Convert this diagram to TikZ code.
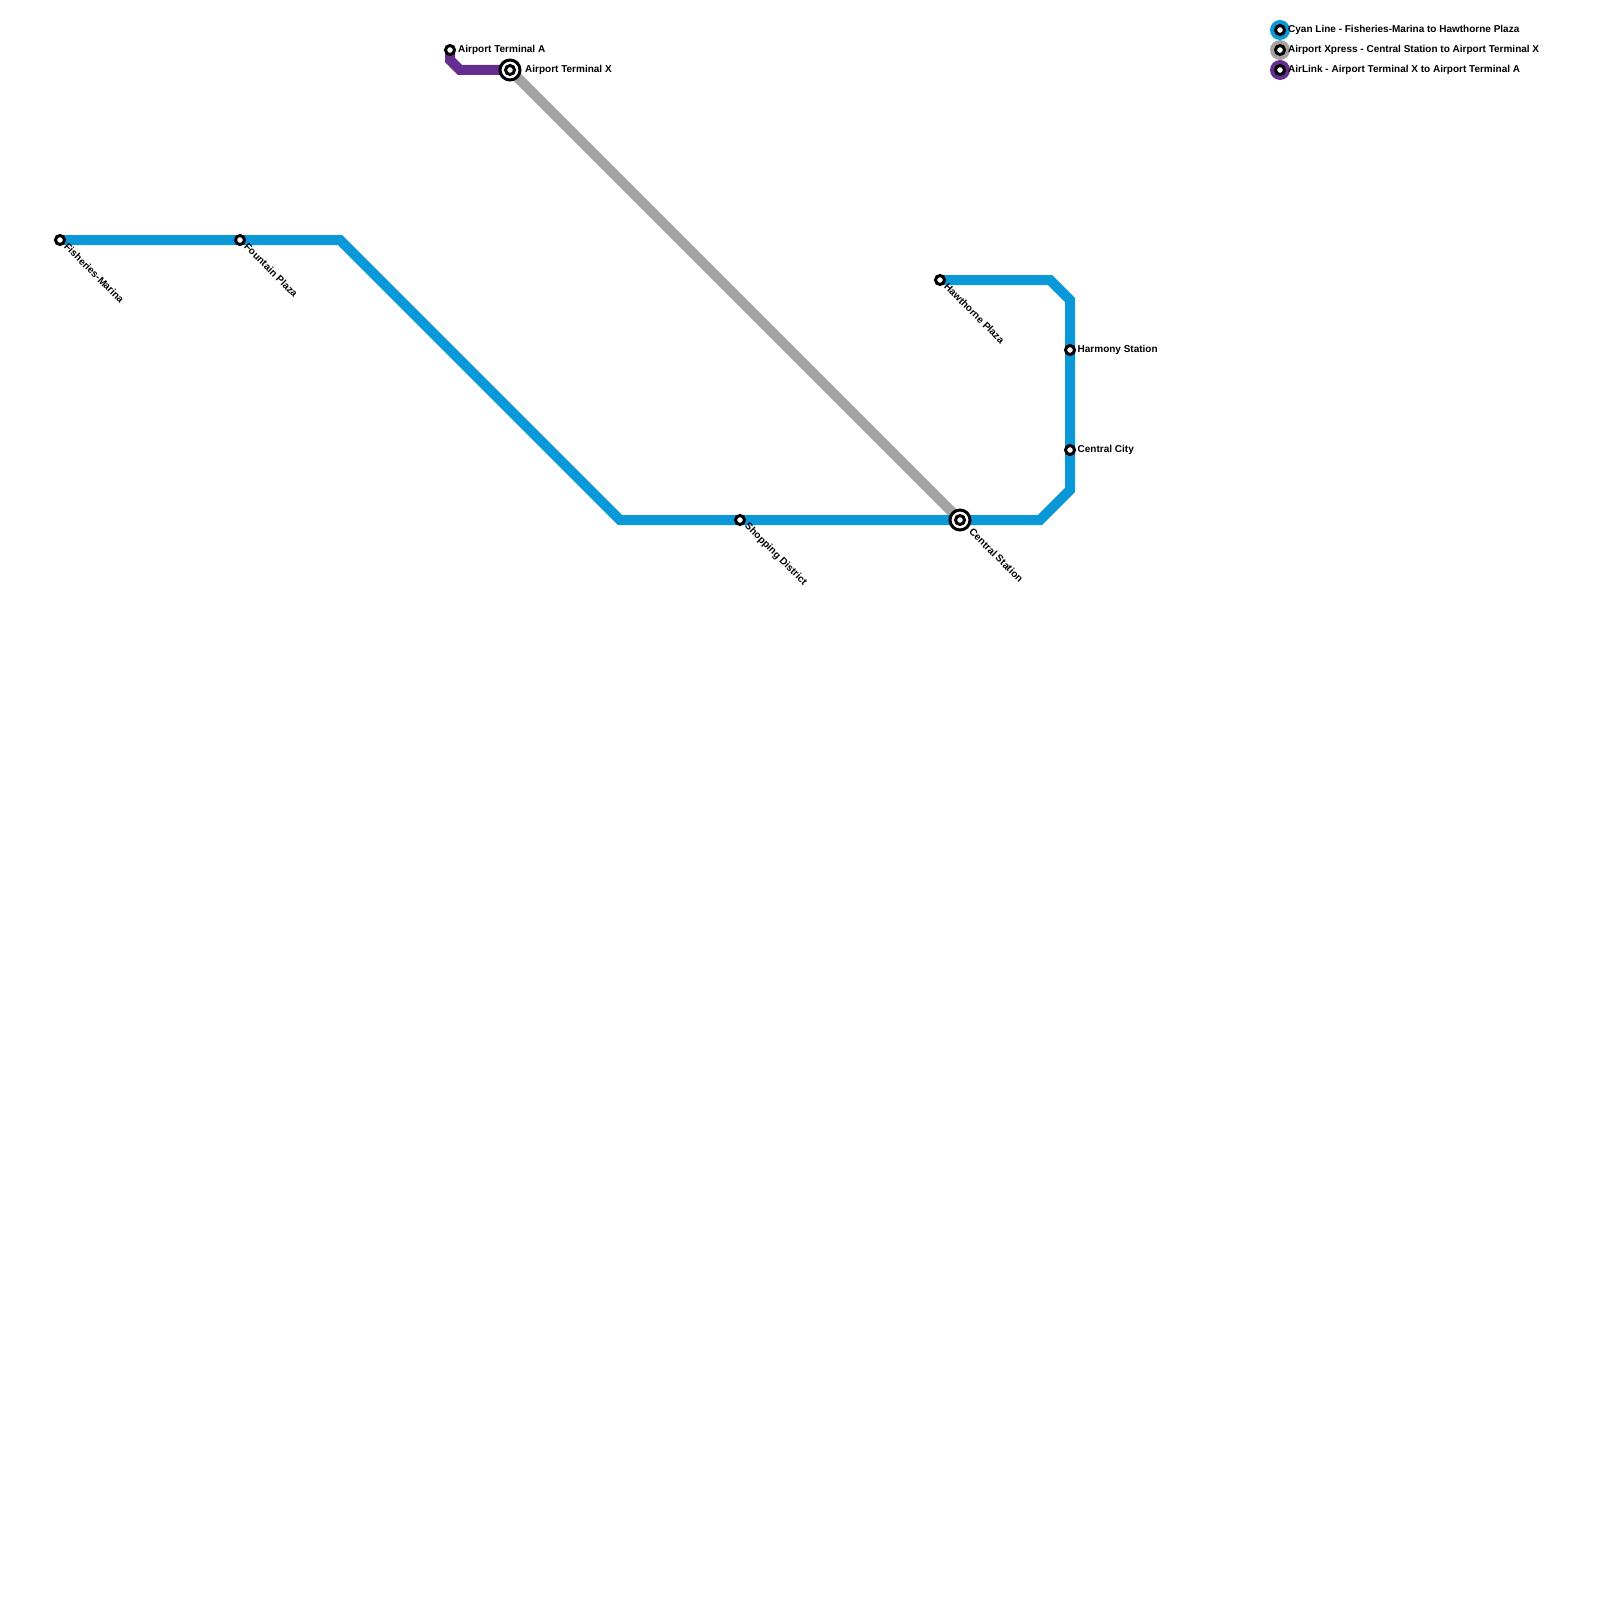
\documentclass[tikz,border=0pt]{standalone}
\usepackage{fontspec}
\setmainfont{Liberation Sans}
\definecolor{cyanline}{HTML}{0A98D9}
\definecolor{greyline}{HTML}{A3A3A3}
\definecolor{purpleline}{HTML}{662D91}
\tikzset{
  x=1pt,y=-1pt,
  route/.style={line width=10pt,line join=miter,line cap=butt},
  halt/.style={circle,draw=black,fill=white,line width=3pt,minimum size=9pt,inner sep=0pt},
  hub/.style={circle,draw=black,fill=white,line width=3pt,minimum size=20pt,inner sep=0pt},
  lab/.style={anchor=west,inner sep=0pt,font=\fontsize{10}{12}\selectfont\bfseries},
  dlab/.style={lab,rotate=-45},
  keydisc/.style={circle,minimum size=20pt,inner sep=0pt},
}
\begin{document}
\begin{tikzpicture}
\useasboundingbox (0,0) rectangle (1600,1600);
\fill[white] (0,0) rectangle (1600,1600);
% stations
\coordinate (fish) at (60,240);
\coordinate (foun) at (240,240);
\coordinate (shop) at (740,520);
\coordinate (cent) at (960,520);
\coordinate (city) at (1070,450);
\coordinate (harm) at (1070,350);
\coordinate (hawt) at (940,280);
\coordinate (atx) at (510,70);
\coordinate (ata) at (450,50);
% lines
\draw[route,greyline] (cent) -- (atx);
\draw[route,purpleline] (atx) -- (460,70) -- (450,60) -- (ata);
\draw[route,cyanline] (fish) -- (foun) -- (340,240) -- (620,520) -- (shop) -- (cent) -- (1040,520) -- (1070,490) -- (city) -- (harm) -- (1070,300) -- (1050,280) -- (hawt);
% station markers
\node[halt] (nfish) at (fish) {};
\node[halt] (nfoun) at (foun) {};
\node[halt] (nshop) at (shop) {};
\node[halt] (ncity) at (city) {};
\node[halt] (nharm) at (harm) {};
\node[halt] (nhawt) at (hawt) {};
\node[halt] (nata) at (ata) {};
\node[hub] (ncent) at (cent) {};
\node[halt] (ncentb) at (cent) {};
\node[hub] (natx) at (atx) {};
\node[halt] (natxb) at (atx) {};
% labels
\node[dlab] (lfish) at (66,245) {Fisheries-Marina};
\node[dlab] (lfoun) at (246,245) {Fountain Plaza};
\node[dlab] (lshop) at (746,525) {Shopping District};
\node[dlab] (lcent) at (971,530) {Central Station};
\node[dlab] (lhawt) at (946,285) {Hawthorne Plaza};
\node[lab] (lharm) at (1077.5,350) {Harmony Station};
\node[lab] (lcity) at (1077.5,450) {Central City};
\node[lab] (lata) at (458,50) {Airport Terminal A};
\node[lab] (latx) at (525,70) {Airport Terminal X};
% legend
\node[keydisc,fill=cyanline] (k1) at (1280,30) {};
\node[keydisc,fill=greyline] (k2) at (1280,50) {};
\node[keydisc,fill=purpleline] (k3) at (1280,70) {};
\node[halt] (k1b) at (1280,30) {};
\node[halt] (k2b) at (1280,50) {};
\node[halt] (k3b) at (1280,70) {};
\node[lab] (t1) at (1288,30) {Cyan Line - Fisheries-Marina to Hawthorne Plaza};
\node[lab] (t2) at (1288,50) {Airport Xpress - Central Station to Airport Terminal X};
\node[lab] (t3) at (1288,70) {AirLink - Airport Terminal X to Airport Terminal A};
\end{tikzpicture}
\end{document}
